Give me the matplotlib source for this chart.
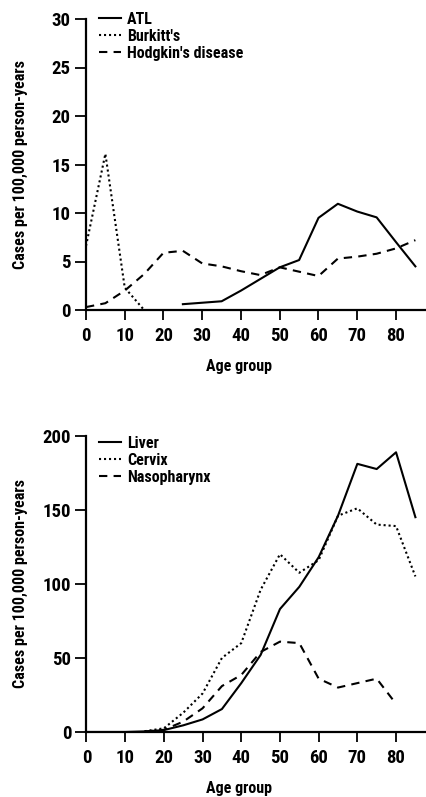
import matplotlib
matplotlib.use("Agg")
import matplotlib.pyplot as plt
from matplotlib.lines import Line2D

FAM = ['Roboto Condensed', 'Fira Sans Condensed', 'Archivo Narrow', 'DejaVu Sans']
plt.rcParams['font.family'] = FAM
plt.rcParams['font.weight'] = 'bold'

# ---- Top panel data ----
atl_age = [25, 30, 35, 40, 45, 50, 55, 60, 65, 70, 75, 80, 85]
atl_val = [0.6, 0.75, 0.9, 2.0, 3.2, 4.4, 5.15, 9.5, 10.95, 10.15, 9.55, 7.0, 4.5]

burkitt_age = [0, 5, 10, 15]
burkitt_val = [6.6, 16.1, 2.3, 0.0]

hodgkin_age = [0, 5, 10, 15, 20, 25, 30, 35, 40, 45, 50, 55, 60, 65, 70, 75, 80, 85]
hodgkin_val = [0.3, 0.7, 2.0, 3.7, 5.9, 6.1, 4.8, 4.5, 4.0, 3.6, 4.4, 3.95, 3.5,
               5.3, 5.5, 5.8, 6.35, 7.2]

# ---- Bottom panel data ----
liver_age = [0, 5, 10, 15, 20, 25, 30, 35, 40, 45, 50, 55, 60, 65, 70, 75, 80, 85]
liver_val = [0, 0, 0, 0.4, 1.3, 4.5, 8.5, 15.5, 33, 52, 83, 98, 118, 146, 181,
             177.5, 188.8, 145]

cervix_age = [15, 20, 25, 30, 35, 40, 45, 50, 55, 60, 65, 70, 75, 80, 85]
cervix_val = [0.5, 2.5, 13, 26, 50, 60, 96, 120, 107.5, 116, 146, 151, 140, 139, 105]

naso_age = [15, 20, 25, 30, 35, 40, 45, 50, 55, 60, 65, 70, 75, 80]
naso_val = [0.3, 1.5, 7, 16, 31, 38.5, 54, 61, 60, 36, 30, 33, 36, 19]

x_ticks = [0, 10, 20, 30, 40, 50, 60, 70, 80]
top_yticks = [0, 5, 10, 15, 20, 25, 30]
bot_yticks = [0, 50, 100, 150, 200]

ylabel_text = "Cases per 100,000 person-years"
xlabel_text = "Age group"
top_labels = ["ATL", "Burkitt's", "Hodgkin's disease"]
bot_labels = ["Liver", "Cervix", "Nasopharynx"]

W, H = 427, 797
fig = plt.figure(figsize=(W / 100, H / 100), dpi=100)

solid = dict(color='black', lw=1.5, linestyle='-')
dotted = dict(color='black', lw=1.5, linestyle=(0, (1.0, 1.4)))
dashed = dict(color='black', lw=1.5, linestyle=(0, (4.0, 3.0)))


def style_axes(ax, ymax, yticks):
    ax.set_xlim(0, 88)
    ax.set_ylim(0, ymax)
    ax.spines['top'].set_visible(False)
    ax.spines['right'].set_visible(False)
    ax.spines['left'].set_linewidth(1.6)
    ax.spines['bottom'].set_linewidth(1.6)
    ax.set_xticks(x_ticks)
    ax.set_yticks(yticks)
    ax.tick_params(axis='y', direction='out', length=8, width=1.3, pad=3,
                   labelsize=13.5)
    ax.tick_params(axis='x', direction='out', length=7, width=1.3, pad=5,
                   labelsize=13.5)
    for lab in ax.get_xticklabels() + ax.get_yticklabels():
        lab.set_fontweight('bold')
    ax.set_ylabel(ylabel_text, fontsize=11.5, fontweight='bold')
    ax.set_xlabel(xlabel_text, fontsize=11.5, fontweight='bold')
    ax.patch.set_visible(False)


# Top axes
ax1 = fig.add_axes([86 / W, (H - 310) / H, (W - 86) / W, (310 - 19) / H])
ax1.plot(atl_age, atl_val, **solid)
ax1.plot(burkitt_age, burkitt_val, **dotted)
ax1.plot(hodgkin_age, hodgkin_val, **dashed)
style_axes(ax1, 30, top_yticks)
ax1.yaxis.set_label_coords(-66 / (W - 86), 0.5)
ax1.xaxis.set_label_coords((239 - 86) / (W - 86), -(367 - 310) / (310 - 19))
ax1.xaxis.label.set_va('center')
ax1.yaxis.label.set_va('center')

handles1 = [Line2D([], [], **solid), Line2D([], [], **dotted), Line2D([], [], **dashed)]
leg1 = ax1.legend(handles1, top_labels, loc='upper left', frameon=False,
                  bbox_to_anchor=(13 / (W - 86), 1 + 7 / (310 - 19)),
                  prop={'size': 11.5, 'weight': 'bold', 'family': FAM},
                  handlelength=1.35, handletextpad=0.4, labelspacing=0.12,
                  borderaxespad=0, borderpad=0)

# Bottom axes
y0b = 732
y200 = 435.7
ax2 = fig.add_axes([86.5 / W, (H - y0b) / H, (W - 86.5) / W, (y0b - y200) / H])
ax2.plot(liver_age, liver_val, **solid)
ax2.plot(cervix_age, cervix_val, **dotted)
ax2.plot(naso_age, naso_val, **dashed)
style_axes(ax2, 200, bot_yticks)
ax2.yaxis.set_label_coords(-66 / (W - 86.5), 0.5)
ax2.xaxis.set_label_coords((239 - 86.5) / (W - 86.5), -(789 - y0b) / (y0b - y200))
ax2.xaxis.label.set_va('center')
ax2.yaxis.label.set_va('center')

handles2 = [Line2D([], [], **solid), Line2D([], [], **dotted), Line2D([], [], **dashed)]
leg2 = ax2.legend(handles2, bot_labels, loc='upper left', frameon=False,
                  bbox_to_anchor=(13 / (W - 86.5), 1 + 0 / (y0b - y200)),
                  prop={'size': 11.5, 'weight': 'bold', 'family': FAM},
                  handlelength=1.35, handletextpad=0.4, labelspacing=0.12,
                  borderaxespad=0, borderpad=0)

fig.savefig("out.png", dpi=100)
